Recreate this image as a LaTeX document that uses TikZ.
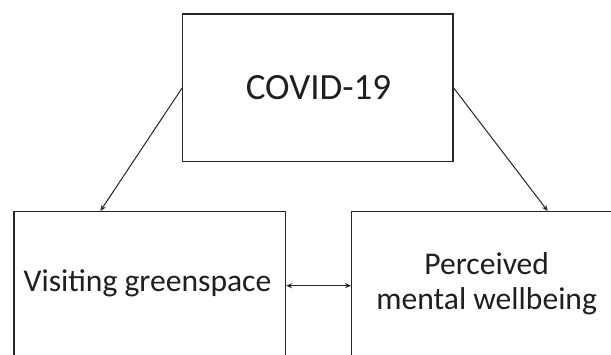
\documentclass[tikz,border=0pt]{standalone}
\usepackage{fontspec}
\setmainfont{Carlito}
\usetikzlibrary{arrows.meta,calc}
\tikzset{
  box/.style={draw=black!85, line width=1.2pt, rectangle, inner sep=0pt, fill=none},
  label text/.style={inner sep=0pt, text=black!88, font=\fontsize{31.6}{35.4}\selectfont, align=center},
  title text/.style={inner sep=0pt, text=black!88, font=\fontsize{37}{44}\selectfont},
  link/.style={draw=black!85, line width=1pt, -{Stealth[length=6pt,width=5pt]}},
  twoway/.style={draw=black!85, line width=1pt, {Stealth[length=6pt,width=5pt]}-{Stealth[length=6pt,width=5pt]}}
}
\begin{document}
\begin{tikzpicture}[x=1pt,y=-1pt]
  \useasboundingbox (0,0) rectangle (611,354);
  \clip (0,0) rectangle (611,354);
  \fill[white] (0,0) rectangle (611,354);

  % boxes
  \node[box, minimum width=270.3pt, minimum height=147.7pt] (covid) at (317.9,87.9) {};
  \node[box, minimum width=271.7pt, minimum height=200pt, anchor=north west] (green) at (13.3,211) {};
  \node[box, minimum width=272pt, minimum height=200pt, anchor=north west] (mental) at (351,211) {};

  % texts
  \node[title text] (covidtext) at (318.5,87.8) {COVID-19};
  \node[label text, anchor=base] (greentext) at (147.5,291.7) {Visiting greenspace};
  \node[label text] (mentaltext) at (486.7,283.8) {Perceived\\mental wellbeing};

  % arrow ends on the lower boxes
  \coordinate (greentop) at ($(green.north west)!0.319!(green.north east)$);
  \coordinate (mentaltop) at ($(mental.north west)!0.72!(mental.north east)$);

  % connectors
  \draw[link] (covid.west) -- (greentop);
  \draw[link] (covid.east) -- (mentaltop);
  \draw[twoway] (green.east |- 0,285.7) -- (mental.west |- 0,285.7);
\end{tikzpicture}
\end{document}
